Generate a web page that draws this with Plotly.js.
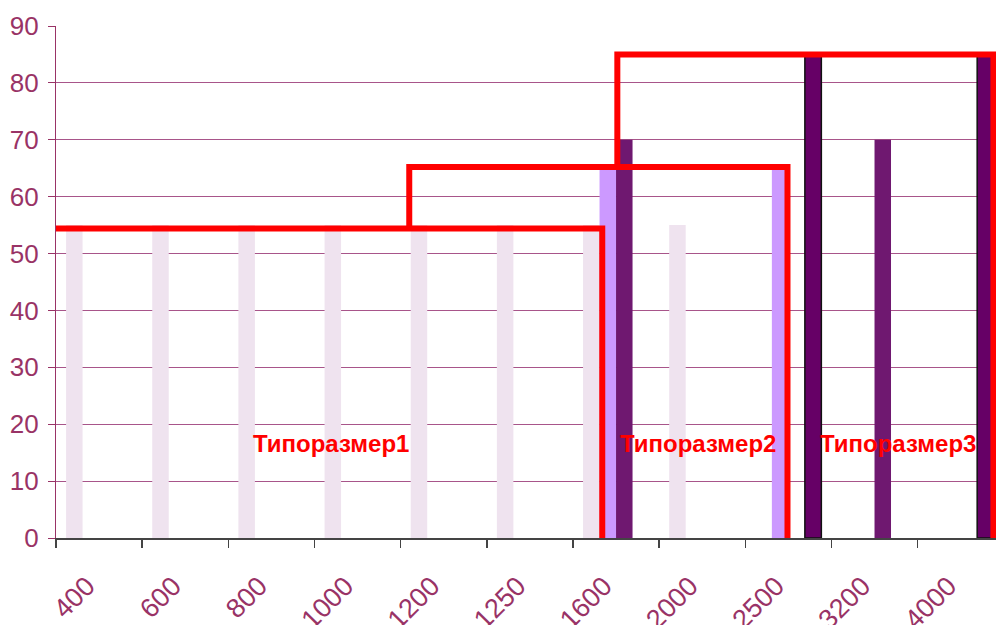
<!DOCTYPE html>
<html>
<head>
<meta charset="utf-8">
<script src="https://cdn.plot.ly/plotly-3.0.1.min.js"></script>
<style>html,body{margin:0;padding:0;background:#fff;}#chart{width:996px;height:625px;}</style>
</head>
<body>
<div id="chart"></div>
<script>
// ---- data ----
var categories = ['400','600','800','1000','1200','1250','1600','2000','2500','3200','4000'];
var series1 = [55, 55, 55, 55, 55, 55, 55, 55, null, null, null];
var series2 = [null, null, null, null, null, null, 65, null, 65, null, null];
var series3 = [null, null, null, null, null, null, 70, null, null, 70, null];
var series4 = [null, null, null, null, null, null, null, null, 85, null, 85];

// red outline frames (x in category-index units, y in value units)
var frame1X = [-0.54, 5.84, 5.84];
var frame1Y = [54.4, 54.4, -0.3];
var frame2X = [3.6, 3.6, 7.99, 7.99];
var frame2Y = [54.4, 65.2, 65.2, -0.8];
var frame3X = [6.015, 6.015, 10.38, 10.38];
var frame3Y = [65.2, 85.0, 85.0, 0];

var labelTexts = ['Типоразмер1', 'Типоразмер2', 'Типоразмер3'];
var labelX = [2.69, 6.95, 9.27];
var labelY = [16.6, 16.6, 16.6];

var plum = '#993366';

var traces = [
  {type:'bar', x:categories, y:series1, marker:{color:'#EFE3EF'}, hoverinfo:'none'},
  {type:'bar', x:categories, y:series2, marker:{color:'#CC99FF'}, hoverinfo:'none'},
  {type:'bar', x:categories, y:series3, marker:{color:'#6F1870'}, hoverinfo:'none'},
  {type:'bar', x:categories, y:series4, marker:{color:'#660066', line:{color:'#111', width:1.5}}, hoverinfo:'none'}
];
[[frame1X, frame1Y],[frame2X, frame2Y],[frame3X, frame3Y]].forEach(function(f){
  traces.push({type:'scatter', mode:'lines', x:f[0], y:f[1], xaxis:'x2', yaxis:'y',
    line:{color:'#FF0000', width:6}, hoverinfo:'none', cliponaxis:false});
});

var annotations = labelTexts.map(function(t, i){
  return {text:'<b>'+t+'</b>', x:labelX[i], y:labelY[i], xref:'x2', yref:'y',
    showarrow:false, font:{family:'Liberation Sans, Arial, sans-serif', size:24, color:'#FF0000'}};
});

var layout = {
  width:996, height:625,
  margin:{l:56, r:0, t:26, b:87},
  paper_bgcolor:'#fff', plot_bgcolor:'#fff',
  showlegend:false,
  barmode:'group', bargap:0.234, bargroupgap:0,
  font:{family:'Liberation Sans, Arial, sans-serif'},
  xaxis:{type:'category', range:[-0.5, 10.41], tickson:'boundaries',
    ticks:'outside', ticklen:8, tickcolor:'#444', tickwidth:1.5,
    showline:true, linecolor:'#444', linewidth:1.5, showgrid:false,
    tickangle:-45, tickfont:{size:27, color:plum},
    ticklabelstandoff:20, ticklabelshift:-12, fixedrange:true},
  xaxis2:{overlaying:'x', type:'linear', range:[-0.5, 10.41], visible:false, fixedrange:true},
  yaxis:{range:[0, 90], dtick:10, ticks:'outside', ticklen:7, tickcolor:plum,
    showline:true, linecolor:plum, linewidth:1.2,
    showgrid:true, gridcolor:'#A8558A', gridwidth:1, zeroline:false,
    tickfont:{size:26, color:plum}, ticklabelstandoff:4, fixedrange:true},
  annotations:annotations
};

Plotly.newPlot('chart', traces, layout, {displayModeBar:false, staticPlot:true});
</script>
</body>
</html>
